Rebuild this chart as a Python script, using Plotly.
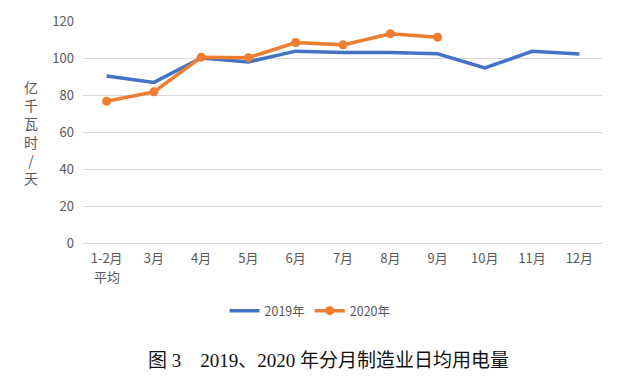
import plotly.graph_objects as go

months = ["1-2月", "3月", "4月", "5月", "6月", "7月", "8月", "9月", "10月", "11月", "12月"]
month_sublabel = "平均"  # second line under the first category
v2019 = [90.3, 86.8, 100.0, 97.9, 103.7, 103.0, 103.0, 102.3, 94.6, 103.6, 102.1]
months2020 = months[:8]
v2020 = [76.6, 81.7, 100.4, 100.2, 108.4, 107.1, 113.1, 111.2]
ytitle_chars = ["亿", "千", "瓦", "时", "/", "天"]

W, H = 624, 371  # page body has 8px margin
L, R, T, B = 75, 29, 13, 136
pw, ph = W - L - R, H - T - B

fig = go.Figure()
fig.add_trace(go.Scatter(x=months, y=v2019, mode="lines", name="2019年",
                         line=dict(color="#4472C4", width=3.5)))
fig.add_trace(go.Scatter(x=months2020, y=v2020, mode="lines+markers", name="2020年",
                         line=dict(color="#ED7D31", width=3.5),
                         marker=dict(color="#ED7D31", size=9)))

tickfont = dict(family="Noto Sans CJK SC", size=13, color="#595959")

annotations = [
    dict(text="<br>".join(ytitle_chars), xref="paper", yref="paper",
         x=(23 - L) / pw, y=(H - B - 125) / ph,
         xanchor="center", yanchor="middle", showarrow=False,
         font=dict(family="Noto Sans CJK SC", size=14, color="#595959")),
    dict(text=month_sublabel, xref="x", yref="paper",
         x=months[0], y=(H - B - 268) / ph,
         xanchor="center", yanchor="middle", showarrow=False,
         font=tickfont),
    dict(text="图 3 \u00a0\u00a0\u00a02019、2020 年分月制造业日均用电量",
         xref="paper", yref="paper",
         x=(320 - L) / pw, y=(H - B - 352) / ph,
         xanchor="center", yanchor="middle", showarrow=False,
         font=dict(family="Liberation Serif, Noto Sans CJK SC", size=19, color="#111111")),
]

fig.update_layout(
    width=W, height=H,
    margin=dict(l=L, r=R, t=T, b=B),
    paper_bgcolor="white", plot_bgcolor="white",
    showlegend=True,
    legend=dict(orientation="h", x=(302 - L) / pw, xanchor="center",
                y=(H - B - 303) / ph, yanchor="middle",
                font=dict(family="Noto Sans CJK SC", size=12.5, color="#595959")),
    xaxis=dict(type="category", tickfont=tickfont, showgrid=False, showline=False,
               ticks="", range=[-0.5, 10.5], ticklabelstandoff=6, automargin=False),
    yaxis=dict(range=[0, 120], dtick=20, tickfont=tickfont, gridcolor="#d9d9d9",
               gridwidth=1, zeroline=True, zerolinecolor="#d9d9d9", zerolinewidth=1,
               showline=False, ticks="", ticklabelstandoff=8, automargin=False),
    annotations=annotations,
)

fig.write_html("out.html")
